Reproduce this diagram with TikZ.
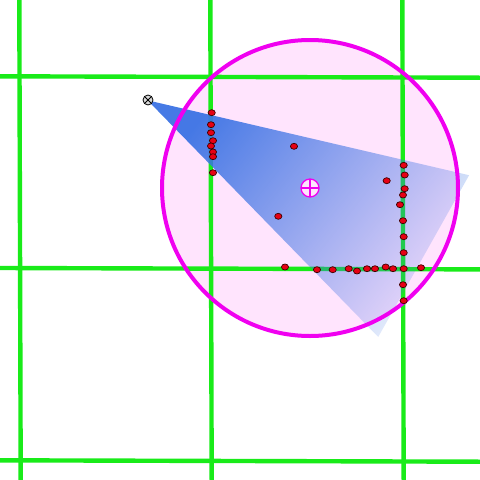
\documentclass[tikz,border=0pt]{standalone}
\usepackage{tikz}
\usetikzlibrary{fadings}

\definecolor{gridgreen}{RGB}{25,235,25}
\definecolor{rangepink}{RGB}{255,228,253}
\definecolor{rangeline}{RGB}{240,0,240}
\definecolor{conecol}{RGB}{60,115,228}
\definecolor{hitred}{RGB}{230,0,20}

\tikzfading[name=conefade, left color=transparent!5, right color=transparent!90]

\tikzset{
    gridline/.style={gridgreen,line width=4.4pt},
    hit/.style={fill=hitred,draw=black!75!red,line width=0.7pt}
}

\begin{document}
\begin{tikzpicture}[x=1pt,y=-1pt]
    \useasboundingbox (0,0) rectangle (480,480);

    % Range (fill)
    \fill[rangepink] (310,188) circle (148);

    % Grid
    \foreach \x in {19.3,210.3,402.3} {
        \draw[gridline] (\x,0) -- (\x+1.4,480);
    }
    \foreach \y in {76.3,268,460.3} {
        \draw[gridline] (0,\y) -- (480,\y+1.4);
    }

    % Sensor cone
    \fill[conecol,path fading=conefade,fading angle=-30]
        (148,100) -- (470,175) -- (379,337) -- cycle;

    % Range (outline)
    \draw[rangeline,line width=4pt] (310,188) circle (148);

    % Hits
    \foreach \x/\y in {211.7/112.7, 211/124.7, 211/132.7, 213/140.7, 211/146,
        213/152, 213/156.7, 213/172.7, 294/146.3, 278.3/216.3, 386.7/180.7,
        403.7/165.3, 404.7/175, 404.7/188.7, 403/195, 400/204.7, 403/220.7,
        403.7/236.7, 403.7/252.7, 403.7/268.7, 403/284.7, 403.7/300.7,
        285/267, 317/269.7, 332.7/269.7, 348.7/268.7, 357/271, 367/268.7,
        375/268.7, 385.7/267, 393/268.7, 421/267.7} {
        \filldraw[hit] (\x,\y) ellipse (3.6 and 3);
    }

    % Estimate
    \filldraw[fill=rangepink,draw=rangeline,line width=1.3pt] (310,188) circle (9);
    \draw[rangeline,line width=1.3pt] (301,188) -- (319,188) (310,179) -- (310,197);

    % Sensor
    \filldraw[fill=black!15,draw=black,line width=0.8pt] (148,100) circle (5);
    \draw[black,line width=0.8pt] (144.5,96.5) -- (151.5,103.5) (144.5,103.5) -- (151.5,96.5);
\end{tikzpicture}
\end{document}
